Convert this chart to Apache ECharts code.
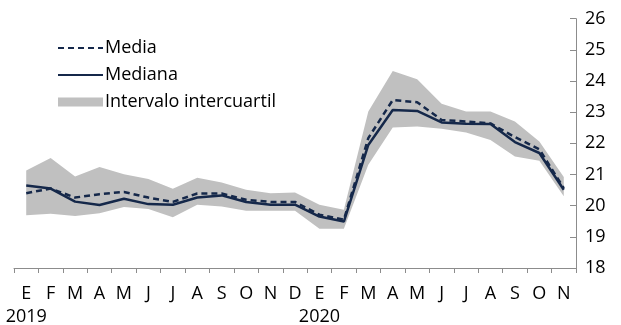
<!DOCTYPE html>
<html><head><meta charset="utf-8">
<script src="https://cdn.jsdelivr.net/npm/echarts@6/dist/echarts.min.js"></script>
<style>html,body{margin:0;padding:0;background:#fff}#c{width:621px;height:325px}</style>
</head><body><div id="c"></div>
<script>
const months = ['E','F','M','A','M','J','J','A','S','O','N','D','E','F','M','A','M','J','J','A','S','O','N'];
const years = {0:'2019',12:'2020'};
const media = [20.4,20.55,20.26,20.37,20.44,20.26,20.12,20.39,20.39,20.19,20.12,20.12,19.71,19.55,22.17,23.39,23.32,22.75,22.7,22.64,22.2,21.81,20.56];
const mediana = [20.65,20.55,20.13,20.02,20.22,20.05,20.03,20.26,20.33,20.12,20.03,20.03,19.65,19.49,21.95,23.07,23.04,22.67,22.63,22.62,22.04,21.69,20.51];
const q1 = [19.69,19.74,19.67,19.76,19.96,19.89,19.63,20.03,19.97,19.84,19.84,19.84,19.26,19.26,21.31,22.51,22.54,22.47,22.35,22.11,21.58,21.44,20.3];
const q3 = [21.13,21.53,20.94,21.24,21.01,20.86,20.54,20.9,20.74,20.51,20.4,20.42,20.03,19.87,23.02,24.32,24.06,23.27,23.02,23.02,22.7,22.06,20.92];
const yTicks = [18,19,20,21,22,23,24,25,26];

const navy = '#15284a';
const font = 'Open Sans';
const chart = echarts.init(document.getElementById('c'));
chart.setOption({
  animation:false,
  textStyle:{fontFamily:font},
  grid:{left:14,right:45,top:18.7,bottom:57,containLabel:false,outerBoundsMode:'none'},
  legend:{
    orient:'vertical', left:52, top:34, itemWidth:45, itemHeight:14, itemGap:9,
    textStyle:{fontFamily:font,fontSize:18,color:'#000',padding:[0,0,0,-3]},
    data:[
      {name:'Media',itemStyle:{opacity:0}},
      {name:'Mediana',itemStyle:{opacity:0}},
      {name:'Intervalo intercuartil',icon:'path://M0,0h45v9h-45z',itemStyle:{color:'#c0c0c0'}}
    ],
    selectedMode:false
  },
  xAxis:{
    type:'category', data:months, boundaryGap:true,
    axisLine:{lineStyle:{color:'#8c8c8c'}},
    axisTick:{show:true,length:5,lineStyle:{color:'#8c8c8c'}},
    axisLabel:{interval:0,margin:14,fontSize:18,color:'#000',lineHeight:23,
      formatter:(v,i)=> years[i] ? v+'\n'+years[i] : v}
  },
  yAxis:{
    type:'value', position:'right', min:yTicks[0], max:yTicks[yTicks.length-1], interval:1,
    axisLine:{show:true,lineStyle:{color:'#8c8c8c'}},
    axisTick:{show:true,inside:true,length:6,lineStyle:{color:'#8c8c8c'}},
    splitLine:{show:false},
    axisLabel:{margin:9,fontSize:18,color:'#000'}
  },
  series:[
    {name:'base',type:'line',stack:'band',data:q1,symbol:'none',lineStyle:{opacity:0},silent:true,z:1},
    {name:'Intervalo intercuartil',type:'line',stack:'band',data:q3.map((v,i)=>+(v-q1[i]).toFixed(3)),symbol:'none',
      lineStyle:{opacity:0},areaStyle:{color:'#c0c0c0',opacity:1},itemStyle:{color:'#c0c0c0'},z:1},
    {name:'Media',type:'line',data:media,symbol:'none',lineStyle:{color:navy,width:2.5,type:[6,4]},itemStyle:{color:navy},z:3},
    {name:'Mediana',type:'line',data:mediana,symbol:'none',lineStyle:{color:navy,width:2.5},itemStyle:{color:navy},z:2}
  ]
});
</script></body></html>
